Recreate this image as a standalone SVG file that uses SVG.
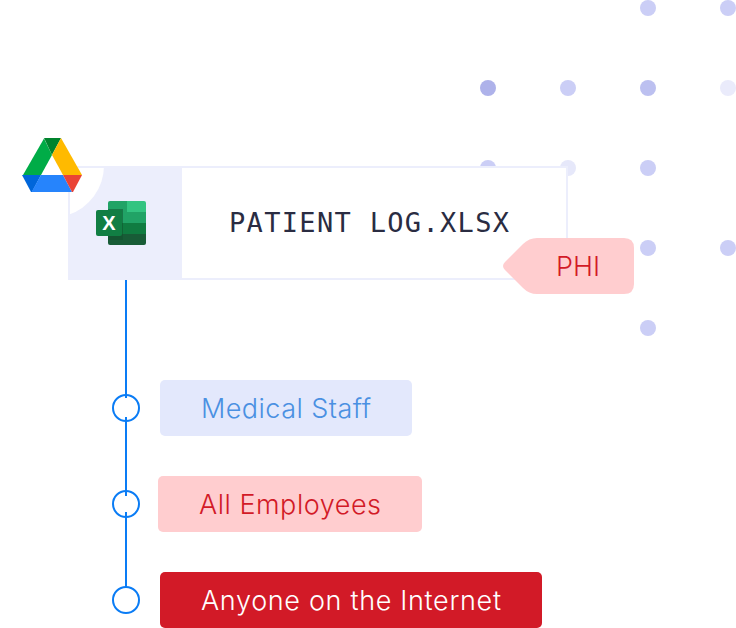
<svg xmlns="http://www.w3.org/2000/svg" width="736" height="628" viewBox="0 0 736 628">
<style>
.d{fill:#cbcef6}
.t{font-family:"Inter","Liberation Sans",sans-serif;font-size:27px;font-weight:350;text-anchor:middle}
.w{fill:none;stroke:#0a7cf5;stroke-width:2}
</style>
<rect width="736" height="628" fill="#fff"/>
<g id="dots">
<circle class="d" cx="648" cy="8" r="8"/><circle class="d" cx="728" cy="8" r="8"/>
<circle cx="488" cy="88" r="8" fill="#aeb2ea"/><circle class="d" cx="568" cy="88" r="8"/><circle cx="648" cy="88" r="8" fill="#bcc0f0"/><circle cx="728" cy="88" r="8" fill="#eaebfb"/>
<circle class="d" cx="488" cy="168" r="8"/><circle cx="568" cy="168" r="8" fill="#e6e8fa"/><circle class="d" cx="648" cy="168" r="8"/>
<circle class="d" cx="648" cy="248" r="8"/><circle class="d" cx="728" cy="248" r="8"/>
<circle class="d" cx="648" cy="328" r="8"/>
</g>
<g id="connectors">
<path class="w" d="M126 280V398M126 417V496M126 512V588"/>
<circle class="w" cx="126" cy="408" r="13"/>
<circle class="w" cx="126" cy="504" r="13"/>
<circle class="w" cx="126" cy="600" r="13"/>
</g>
<g id="file">
<rect x="69" y="167" width="498" height="112" fill="#fff" stroke="#eceefc" stroke-width="2"/>
<path d="M68 166H182V280H68V215A52 52 0 0 0 104 166Z" fill="#eceefc"/>
<text x="369" y="232" text-anchor="middle" textLength="280" lengthAdjust="spacing" font-family="'DejaVu Sans Mono',monospace" font-size="27" fill="#2a2c42">PATIENT LOG.XLSX</text>
</g>
<g id="excel">
<path d="M110 201H127V212H108V203A2 2 0 0 1 110 201Z" fill="#21a366"/>
<path d="M127 201H144A2 2 0 0 1 146 203V212H127Z" fill="#33c481"/>
<rect x="108" y="212" width="38" height="11" fill="#21a366"/>
<rect x="108" y="223" width="38" height="11" fill="#107c41"/>
<path d="M108 234H146V243A2 2 0 0 1 144 245H110A2 2 0 0 1 108 243Z" fill="#185c37"/>
<rect x="108" y="209" width="15" height="31" fill="#0f4d2c" opacity=".5"/>
<rect x="96" y="210" width="26" height="26" rx="2" fill="#117e43"/>
<text x="109" y="230" text-anchor="middle" font-family="'Liberation Sans',sans-serif" font-weight="700" font-size="20" fill="#fff">X</text>
</g>
<g id="drive">
<path d="M44 138.500L52 155L41 175H23Z" fill="#00ac47"/>
<path d="M44 138H61L52 155Z" fill="#00832d"/>
<path d="M61 138L82 175H63L52 155Z" fill="#ffba00"/>
<path d="M22 175H41L32 192H31Z" fill="#0066da"/>
<path d="M41 175H63L72 192H31.500Z" fill="#2684fc"/>
<path d="M63 175H82L73 192H72Z" fill="#ea4335"/>
</g>
<g id="phi">
<path d="M505 262L523 244Q529 238 537 238H624Q634 238 634 248V284Q634 294 624 294H537Q529 294 523 288L505 270Q501 266 505 262Z" fill="#ffcdcf"/>
<text class="t" x="578" y="276" fill="#d21a27">PHI</text>
</g>
<g id="medical">
<rect x="160" y="380" width="252" height="56" rx="5" fill="#e3e8fc"/>
<text class="t" x="286" y="418" textLength="170" fill="#4a90e2">Medical Staff</text>
</g>
<g id="employees">
<rect x="158" y="476" width="264" height="56" rx="5" fill="#ffcdcf"/>
<text class="t" x="290" y="514" textLength="182" fill="#d21a27">All Employees</text>
</g>
<g id="internet">
<rect x="160" y="572" width="382" height="56" rx="5" fill="#d21a27"/>
<text class="t" x="351" y="610" textLength="300" fill="#fff">Anyone on the Internet</text>
</g>
</svg>
